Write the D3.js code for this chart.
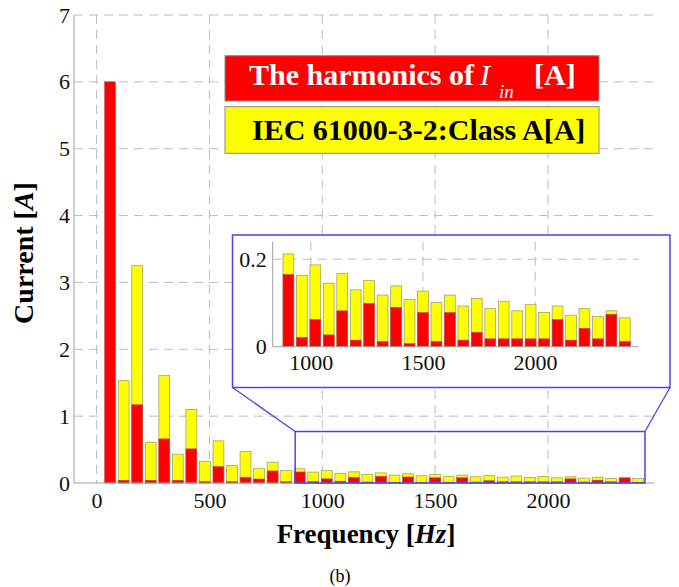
<!DOCTYPE html>
<html>
<head>
<meta charset="utf-8">
<script src="https://cdn.jsdelivr.net/npm/d3@7"></script>
<style>
  html, body { margin: 0; padding: 0; background: #fff; }
  svg { display: block; font-family: "Liberation Serif", "Times New Roman", serif; }
</style>
</head>
<body>
<svg id="chart" width="679" height="587"></svg>
<script>
// Harmonic frequencies (60 Hz fundamental, orders 1..40)
const frequencies = [60, 120, 180, 240, 300, 360, 420, 480, 540, 600,
  660, 720, 780, 840, 900, 960, 1020, 1080, 1140, 1200,
  1260, 1320, 1380, 1440, 1500, 1560, 1620, 1680, 1740, 1800,
  1860, 1920, 1980, 2040, 2100, 2160, 2220, 2280, 2340, 2400];

// Measured input-current harmonics (peak, A)
const measuredCurrent = [6.0, 0.04, 1.17, 0.04, 0.66, 0.04, 0.51, 0.02, 0.245, 0.02,
  0.085, 0.06, 0.18, 0.02, 0.165, 0.021, 0.062, 0.027, 0.082, 0.015,
  0.099, 0.012, 0.09, 0.007, 0.078, 0.012, 0.078, 0.015, 0.033, 0.018,
  0.018, 0.018, 0.018, 0.018, 0.062, 0.015, 0.042, 0.018, 0.074, 0.012];

// IEC 61000-3-2 Class A limits (peak, A); no limit at the fundamental
const classALimit = [null, 1.53, 3.25, 0.61, 1.61, 0.43, 1.10, 0.325, 0.63, 0.26,
  0.47, 0.22, 0.31, 0.186, 0.212, 0.163, 0.187, 0.145, 0.167, 0.130,
  0.151, 0.118, 0.139, 0.108, 0.127, 0.101, 0.118, 0.093, 0.110, 0.087,
  0.104, 0.082, 0.096, 0.078, 0.093, 0.072, 0.087, 0.069, 0.082, 0.066];

const yTicks = [0, 1, 2, 3, 4, 5, 6, 7];
const xTicks = [0, 500, 1000, 1500, 2000];
const insetYTicks = [0, 0.2];
const insetXTicks = [1000, 1500, 2000];
const insetFirstHarmonicHz = 900;
const zoomWindow = { f0: 880, f1: 2430, a0: 0, a1: 0.77 };

const legendItems = ["harmonics", "limit"];

const barWidthHz = 48;
const RED = "#ff0000", YELLOW = "#ffff00", BLUE = "#4646ee";
const GRID = "#bdbdbd", AXIS = "#a0a0a0";
const SERIF = "'Liberation Serif', 'Times New Roman', serif";

const rows = frequencies.map((f, i) => ({ f, meas: measuredCurrent[i], lim: classALimit[i] }));

const svg = d3.select("#chart");

// ---- main axes ----
const x = d3.scaleLinear().domain([-100, 2470]).range([74, 654]);
const y = d3.scaleLinear().domain([0, 7]).range([483, 15]);

const main = svg.append("g");

// dashed grid
main.append("g").selectAll("line").data(yTicks.filter(d => d > 0)).join("line")
  .attr("x1", x.range()[0]).attr("x2", x.range()[1])
  .attr("y1", d => y(d)).attr("y2", d => y(d))
  .attr("stroke", GRID).attr("stroke-width", 1).attr("stroke-dasharray", "9,6");
main.append("g").selectAll("line").data(xTicks).join("line")
  .attr("x1", d => x(d)).attr("x2", d => x(d))
  .attr("y1", y.range()[1]).attr("y2", y.range()[0])
  .attr("stroke", GRID).attr("stroke-width", 1).attr("stroke-dasharray", "9,6");

function drawBars(g, data, xs, ys) {
  const w = xs(barWidthHz) - xs(0);
  g.append("g").selectAll("rect").data(data.filter(d => d.lim != null)).join("rect")
    .attr("x", d => xs(d.f) - w / 2).attr("width", w)
    .attr("y", d => ys(d.lim)).attr("height", d => ys(0) - ys(d.lim))
    .attr("fill", YELLOW).attr("stroke", "#a3a36a").attr("stroke-width", 0.8);
  g.append("g").selectAll("rect").data(data).join("rect")
    .attr("x", d => xs(d.f) - w / 2).attr("width", w)
    .attr("y", d => ys(d.meas)).attr("height", d => ys(0) - ys(d.meas))
    .attr("fill", RED).attr("stroke", "#b84a4a").attr("stroke-width", 0.6);
}
drawBars(main, rows, x, y);

// axis lines
main.append("line").attr("x1", x.range()[0]).attr("x2", x.range()[0])
  .attr("y1", y.range()[0]).attr("y2", y.range()[1]).attr("stroke", AXIS);
main.append("line").attr("x1", x.range()[0]).attr("x2", x.range()[1])
  .attr("y1", y.range()[0]).attr("y2", y.range()[0]).attr("stroke", AXIS);

function styleAxis(a) {
  a.attr("font-family", SERIF);
  a.select(".domain").remove();
  a.selectAll("text").attr("font-size", 22).attr("fill", "#111").attr("font-family", SERIF);
}

const yAxis = main.append("g").attr("transform", `translate(${x.range()[0]},0)`)
  .call(d3.axisLeft(y).tickValues(yTicks).tickFormat(d3.format("d")).tickSize(0).tickPadding(4));
const xAxis = main.append("g").attr("transform", `translate(0,${y.range()[0]})`)
  .call(d3.axisBottom(x).tickValues(xTicks).tickFormat(d3.format("d")).tickSize(0).tickPadding(9));
styleAxis(yAxis); styleAxis(xAxis);

// ---- zoom window + connectors ----
const zx0 = x(zoomWindow.f0), zx1 = x(zoomWindow.f1);
const zy0 = y(zoomWindow.a0), zy1 = y(zoomWindow.a1);
svg.append("rect").attr("x", zx0).attr("y", zy1).attr("width", zx1 - zx0).attr("height", zy0 - zy1)
  .attr("fill", "none").attr("stroke", BLUE).attr("stroke-width", 1.5);

const inset = { left: 232.5, top: 235, right: 670, bottom: 387.5 };
svg.append("line").attr("x1", inset.left).attr("y1", inset.bottom).attr("x2", zx0).attr("y2", zy1)
  .attr("stroke", BLUE).attr("stroke-width", 1.3);
svg.append("line").attr("x1", inset.right).attr("y1", inset.bottom).attr("x2", zx1).attr("y2", zy1)
  .attr("stroke", BLUE).attr("stroke-width", 1.3);

// ---- inset panel ----
svg.append("rect").attr("x", inset.left).attr("y", inset.top)
  .attr("width", inset.right - inset.left).attr("height", inset.bottom - inset.top)
  .attr("fill", "#fff").attr("stroke", BLUE).attr("stroke-width", 1.5);

const ix = d3.scaleLinear().domain([830, 2460]).range([272.7, 638.3]);
const iy = d3.scaleLinear().domain([0, 0.24]).range([346.7, 241.7]);
const ig = svg.append("g");

ig.append("g").selectAll("line").data(insetYTicks.filter(d => d > 0)).join("line")
  .attr("x1", ix.range()[0]).attr("x2", ix.range()[1])
  .attr("y1", d => iy(d)).attr("y2", d => iy(d))
  .attr("stroke", GRID).attr("stroke-dasharray", "9,6");
ig.append("g").selectAll("line").data(insetXTicks).join("line")
  .attr("x1", d => ix(d)).attr("x2", d => ix(d))
  .attr("y1", iy.range()[1]).attr("y2", iy.range()[0])
  .attr("stroke", GRID).attr("stroke-dasharray", "9,6");

drawBars(ig, rows.filter(d => d.f >= insetFirstHarmonicHz), ix, iy);

ig.append("line").attr("x1", ix.range()[0]).attr("x2", ix.range()[0])
  .attr("y1", iy.range()[0]).attr("y2", iy.range()[1]).attr("stroke", AXIS);
ig.append("line").attr("x1", ix.range()[0]).attr("x2", ix.range()[1])
  .attr("y1", iy.range()[0]).attr("y2", iy.range()[0]).attr("stroke", AXIS);

const iyAxis = ig.append("g").attr("transform", `translate(${ix.range()[0]},0)`)
  .call(d3.axisLeft(iy).tickValues(insetYTicks).tickFormat(d => d === 0 ? "0" : d3.format(".1f")(d)).tickSize(0).tickPadding(6));
const ixAxis = ig.append("g").attr("transform", `translate(0,${iy.range()[0]})`)
  .call(d3.axisBottom(ix).tickValues(insetXTicks).tickFormat(d3.format("d")).tickSize(0).tickPadding(8));
styleAxis(iyAxis); styleAxis(ixAxis);

// ---- legend ----
const leg = svg.append("g");
const legBoxes = [
  { key: legendItems[0], x: 225, y: 55.7, h: 45.3, fill: RED },
  { key: legendItems[1], x: 225, y: 106.7, h: 46.6, fill: YELLOW }
];
leg.selectAll("rect").data(legBoxes).join("rect")
  .attr("x", d => d.x).attr("y", d => d.y).attr("width", 374).attr("height", d => d.h)
  .attr("fill", d => d.fill).attr("stroke", "#8c8c8c").attr("stroke-width", 1);

const t1 = leg.append("text").attr("x", 249).attr("y", 84.5)
  .attr("fill", "#fff").attr("font-size", 30).attr("font-weight", "bold");
t1.append("tspan").text("The harmonics of");
t1.append("tspan").attr("x", 480).attr("font-style", "italic").attr("font-weight", "normal").text("I");
t1.append("tspan").attr("x", 499).attr("font-style", "italic").attr("font-weight", "normal")
  .attr("font-size", 19).attr("dy", 13).text("in");
t1.append("tspan").attr("x", 534).attr("dy", -13).text("[A]");

leg.append("text").attr("x", 252).attr("y", 139.5)
  .attr("fill", "#000").attr("font-size", 30).attr("font-weight", "bold")
  .text("IEC 61000-3-2:Class A[A]");

// ---- axis titles ----
const yt = svg.append("text").attr("transform", "translate(33,253) rotate(-90)")
  .attr("text-anchor", "middle").attr("font-size", 28).attr("font-weight", "bold").attr("fill", "#000");
yt.append("tspan").text("Current [");
yt.append("tspan").attr("font-style", "italic").text("A");
yt.append("tspan").text("]");

const xt = svg.append("text").attr("x", 366).attr("y", 543)
  .attr("text-anchor", "middle").attr("font-size", 27).attr("font-weight", "bold").attr("fill", "#000");
xt.append("tspan").text("Frequency [");
xt.append("tspan").attr("font-style", "italic").text("Hz");
xt.append("tspan").text("]");

svg.append("text").attr("x", 340).attr("y", 582).attr("text-anchor", "middle")
  .attr("font-size", 18).attr("fill", "#000").text("(b)");
</script>
</body>
</html>
